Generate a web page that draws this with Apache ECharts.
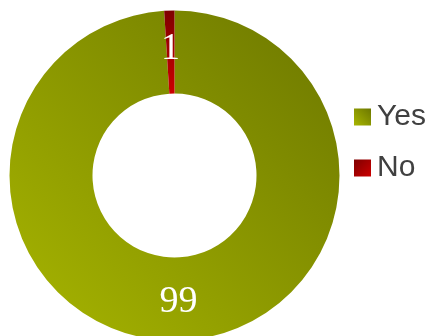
<!DOCTYPE html>
<html>
<head>
<meta charset="utf-8">
<script src="https://cdn.jsdelivr.net/npm/echarts@6/dist/echarts.min.js"></script>
<style>
  html, body { margin: 0; padding: 0; background: #fff; }
  #chart { width: 430px; height: 336px; }
</style>
</head>
<body>
<div id="chart"></div>
<script>
// answers and counts
const categories = ['Yes', 'No'];
const values = [99, 1];

const yesColor = new echarts.graphic.LinearGradient(0, 1, 1, 0, [
  { offset: 0, color: '#a8b600' },
  { offset: 1, color: '#6c7700' }
]);
const noColor = new echarts.graphic.LinearGradient(0, 0, 1, 1, [
  { offset: 0, color: '#7e0000' },
  { offset: 1, color: '#cc0000' }
]);
const colors = [yesColor, noColor];

const chart = echarts.init(document.getElementById('chart'));
chart.setOption({
  animation: false,
  legend: {
    orient: 'vertical',
    left: 349,
    top: 95,
    itemWidth: 17,
    itemHeight: 17,
    itemGap: 17,
    icon: 'rect',
    itemStyle: { borderWidth: 0 },
    textStyle: {
      fontFamily: 'Liberation Sans, Arial, sans-serif',
      fontSize: 30,
      color: '#404040',
      padding: [0, 0, 0, 1],
      lineHeight: 34
    },
    data: categories
  },
  series: [{
    type: 'pie',
    center: [174.5, 175.5],
    radius: [82, 165],
    startAngle: 90,
    clockwise: true,
    avoidLabelOverlap: false,
    label: {
      show: true,
      position: 'inside',
      formatter: '{c}',
      color: '#fff',
      fontFamily: 'Liberation Serif, Times New Roman, serif',
      fontSize: 38
    },
    labelLine: { show: false },
    data: categories.map((name, i) => ({
      name: name,
      value: values[i],
      itemStyle: { color: colors[i] }
    }))
  }]
});
</script>
</body>
</html>
